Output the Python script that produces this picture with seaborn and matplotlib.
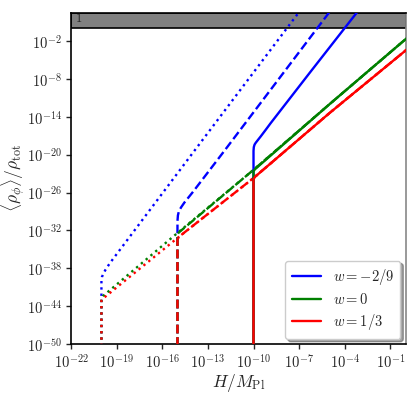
import numpy as np
import pandas as pd
import matplotlib
matplotlib.use("Agg")
import matplotlib.pyplot as plt
import seaborn as sns
from matplotlib.lines import Line2D

sns.set_style("ticks")
plt.rcParams["mathtext.fontset"] = "cm"
plt.rcParams["font.family"] = ["DejaVu Serif"]

# ---- data (log10 values) ----
w_labels = [r"$w=-2/9$", r"$w=0$", r"$w=1/3$"]
w_colors = ["blue", "green", "red"]
H_init = [-20, -15, -10]          # log10 H_i for dotted / dashed / solid
styles = [":", "--", "-"]

# w = -2/9 (blue)
blue_dotted_logH = [-20, -20, -19.97, -19.9, -19.75, -19.45, -13.94, -6.5]
blue_dotted_logR = [-60, -40.0, -39.4, -39.0, -38.3, -37.2, -19.55, 4.2]
blue_dashed_logH = [-15, -15, -14.97, -14.9, -14.75, -14.55, -14.3, -14.0, -11.96, -4.5]
blue_dashed_logR = [-60, -30.5, -29.6, -28.9, -28.3, -27.6, -26.85, -25.95, -19.53, 4.2]
blue_solid_logH = [-10, -10, -9.98, -9.93, -9.85, -9.72, -9.54, -9.21, -8.88, -6.25, -3.21, -2.7]
blue_solid_logR = [-60, -19.4, -18.8, -18.4, -18.1, -17.7, -17.15, -16.1, -15.03, -6.86, 2.5, 4.1]

# w = 0 (green)
green_dotted_logH = [-20, -20, -19.9, -15, -10, -5, 0.1]
green_dotted_logR = [-60, -42.8, -42.4, -32.4, -22.4, -12.0, -1.5]
green_dashed_logH = [-15, -15, -14.9, -10, -5, 0.1]
green_dashed_logR = [-60, -32.6, -32.3, -22.4, -12.0, -1.5]
green_solid_logH = [-10, -10, -9.9, -5, 0.1]
green_solid_logR = [-60, -22.6, -22.3, -12.0, -1.5]

# w = 1/3 (red)
red_dotted_logH = [-20, -20, -19.9, -15, -10, -5, 0.1]
red_dotted_logR = [-60, -43.1, -42.8, -33.2, -23.7, -13.4, -3.3]
red_dashed_logH = [-15, -15, -14.9, -10, -5, 0.1]
red_dashed_logR = [-60, -33.4, -33.0, -23.7, -13.4, -3.3]
red_solid_logH = [-10, -10, -9.9, -5, 0.1]
red_solid_logR = [-60, -23.9, -23.5, -13.4, -3.3]

curves = [
    (blue_dotted_logH, blue_dotted_logR, 0, 0),
    (green_dotted_logH, green_dotted_logR, 1, 0),
    (red_dotted_logH, red_dotted_logR, 2, 0),
    (blue_dashed_logH, blue_dashed_logR, 0, 1),
    (green_dashed_logH, green_dashed_logR, 1, 1),
    (red_dashed_logH, red_dashed_logR, 2, 1),
    (blue_solid_logH, blue_solid_logR, 0, 2),
    (green_solid_logH, green_solid_logR, 1, 2),
    (red_solid_logH, red_solid_logR, 2, 2),
]

xticks_exp = [-22, -19, -16, -13, -10, -7, -4, -1]
yticks_exp = [-50, -44, -38, -32, -26, -20, -14, -8, -2]

# ---- figure ----
fig = plt.figure(figsize=(4.19, 3.95), dpi=100)
ax = fig.add_axes([0.1695, 0.129, 0.7985, 0.839])

ax.axhspan(1.0, 10**2.5, facecolor="#808080", edgecolor="black", linewidth=1.2, zorder=1)
ax.text(0.012, 10**1.6, r"$1$", transform=ax.get_yaxis_transform(),
        fontsize=9, va="center", ha="left", zorder=2)

for logH, logR, wi, si in curves:
    df = pd.DataFrame({"H": 10.0 ** np.array(logH), "R": 10.0 ** np.array(logR)})
    sns.lineplot(data=df, x="H", y="R", ax=ax, sort=False, estimator=None,
                 color=w_colors[wi], linestyle=styles[si], linewidth=1.7, zorder=3)

ax.set_xscale("log")
ax.set_yscale("log")
ax.set_xlim(1e-22, 1.0)
ax.set_ylim(1e-50, 10**2.5)

ax.set_xticks([10.0 ** e for e in xticks_exp])
ax.set_xticklabels([r"$10^{%d}$" % e for e in xticks_exp])
ax.set_yticks([10.0 ** e for e in yticks_exp])
ax.set_yticklabels([r"$10^{%d}$" % e for e in yticks_exp])
ax.minorticks_off()
ax.tick_params(axis="both", which="major", labelsize=10.5, length=3.5, width=1,
               direction="out", pad=3)

ax.set_xlabel(r"$H/M_{\rm Pl}$", fontsize=12.5, labelpad=1)
ax.set_ylabel(r"$\langle\rho_\phi\rangle/\rho_{\rm tot}$", fontsize=12.5, labelpad=0)

for s in ["left", "bottom", "top"]:
    ax.spines[s].set_color("black")
    ax.spines[s].set_linewidth(1.2)
ax.spines["right"].set_color("#888888")
ax.spines["right"].set_linewidth(1.2)

handles = [Line2D([0], [0], color=c, lw=1.7) for c in w_colors]
ax.legend(handles, w_labels, loc="lower right", fontsize=10.5, fancybox=True,
          shadow=True, framealpha=1.0, borderaxespad=0.35, handlelength=2.0,
          labelspacing=0.35, borderpad=0.45)

fig.savefig("out.png", dpi=100)
